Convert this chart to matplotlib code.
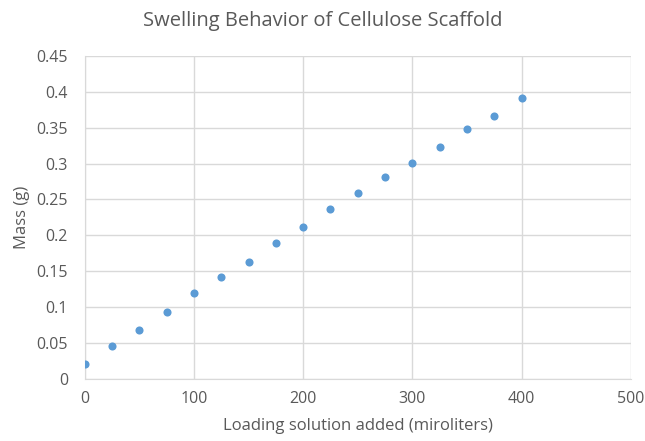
import matplotlib
matplotlib.use('Agg')
from matplotlib import pyplot as plt

# loading solution added (microliters) and measured mass (g)
volume = [0, 25, 50, 75, 100, 125, 150, 175, 200, 225, 250, 275, 300, 325, 350, 375, 400]
mass = [0.020, 0.0455, 0.068, 0.0934, 0.119, 0.1417, 0.163, 0.1887, 0.2114, 0.237,
        0.2584, 0.281, 0.3006, 0.3234, 0.3476, 0.366, 0.3917]

x_ticks = [0, 100, 200, 300, 400, 500]
y_ticks = [0, 0.05, 0.1, 0.15, 0.2, 0.25, 0.3, 0.35, 0.4, 0.45]
y_labels = ['0', '0.05', '0.1', '0.15', '0.2', '0.25', '0.3', '0.35', '0.4', '0.45']

text_color = '#595959'
grid_color = '#d9d9d9'

plt.rcParams['font.family'] = ['Open Sans', 'DejaVu Sans']

fig = plt.figure(figsize=(6.45, 4.41), dpi=100)
ax = fig.add_axes([0.1313, 0.1413, 0.978 - 0.1313, 0.873 - 0.1413])

ax.scatter(volume, mass, s=34, color='#5b9bd5', zorder=3, linewidths=0)

ax.set_xlim(0, 500)
ax.set_ylim(0, 0.45)
ax.set_xticks(x_ticks)
ax.set_yticks(y_ticks)
ax.set_yticklabels(y_labels)
ax.grid(True, color=grid_color, linewidth=1)
ax.set_axisbelow(True)
for side in ['top', 'right']:
  ax.spines[side].set_visible(False)
for side in ['left', 'bottom']:
  ax.spines[side].set_color(grid_color)
ax.tick_params(length=0, colors=text_color, labelsize=11.5)
ax.tick_params(axis='y', pad=12)
ax.tick_params(axis='x', pad=9)

ax.set_xlabel('Loading solution added (miroliters)', color=text_color, fontsize=12, labelpad=8)
ax.set_ylabel('Mass (g)', color=text_color, fontsize=12, labelpad=5)
fig.suptitle('Swelling Behavior of Cellulose Scaffold', color=text_color, fontsize=14.5, x=0.5, y=0.975)

fig.savefig('out.png', dpi=100)
